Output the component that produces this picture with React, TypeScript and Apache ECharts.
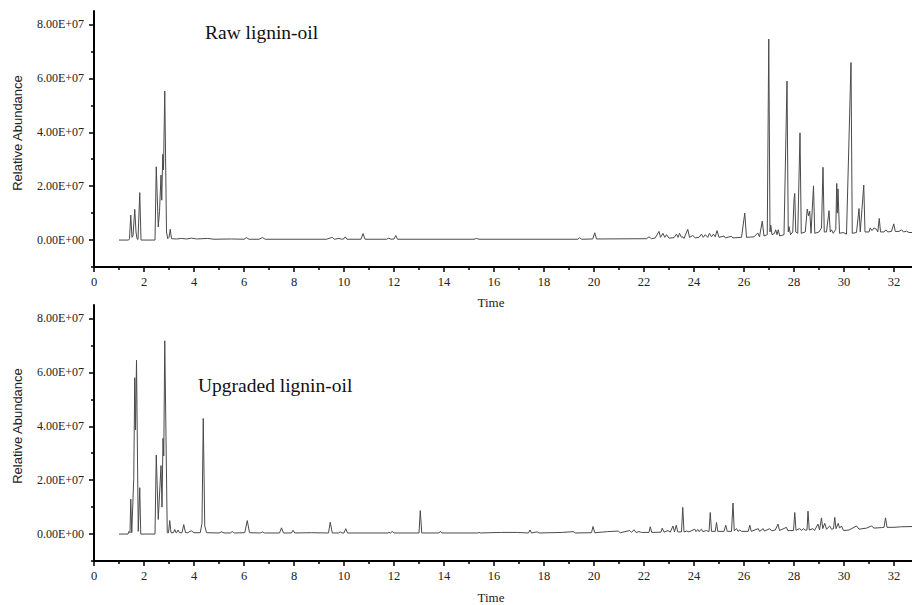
import React, { useEffect, useRef } from "react";
import * as echarts from "echarts";

// Retention time (min) / relative abundance (units of 1E7)
const rawTrace: number[][] = [
  [1.0,0],[1.38,0],[1.42,0.05],[1.47,0.93],[1.52,0.1],[1.56,0.15],[1.63,1.14],[1.68,0.3],[1.72,0.05],[1.76,0.02],[1.83,1.76],[1.88,0],
  [2.44,0],[2.49,2.72],[2.57,0.49],[2.62,1.05],[2.68,2.41],[2.71,1.48],[2.75,3.18],[2.78,2.6],[2.83,5.53],[2.9,0.3],[2.95,0.05],
  [3.0,0.1],[3.05,0.4],[3.1,0.05],[3.3,0.04],[3.5,0.06],[3.7,0.04],[3.9,0.07],[4.1,0.04],[4.55,0.06],[4.8,0.03],[5.5,0.04],
  [6.0,0.03],[6.1,0.09],[6.2,0.03],[6.6,0.03],[6.74,0.09],[6.85,0.03],[8.0,0.03],[9.3,0.03],[9.4,0.06],[9.53,0.1],[9.62,0.03],
  [9.8,0.06],[9.9,0.03],[10.0,0.05],[10.05,0.12],[10.12,0.03],[10.68,0.03],[10.76,0.24],[10.84,0.03],[11.7,0.03],[11.79,0.07],
  [11.88,0.03],[12.0,0.04],[12.07,0.17],[12.14,0.03],[15.2,0.03],[15.3,0.06],[15.4,0.03],[19.35,0.03],[19.43,0.09],[19.5,0.03],
  [19.95,0.04],[20.03,0.27],[20.1,0.04],[22.1,0.05],[22.2,0.12],[22.3,0.05],[22.45,0.08],[22.6,0.32],[22.66,0.1],[22.76,0.25],
  [22.83,0.1],[22.9,0.2],[23.0,0.07],[23.2,0.09],[23.3,0.22],[23.36,0.1],[23.42,0.25],[23.5,0.1],[23.55,0.12],[23.6,0.06],
  [23.75,0.4],[23.82,0.1],[23.95,0.17],[24.05,0.08],[24.2,0.1],[24.3,0.22],[24.37,0.1],[24.45,0.2],[24.55,0.1],[24.62,0.25],
  [24.7,0.12],[24.78,0.22],[24.85,0.12],[24.92,0.35],[25.0,0.1],[25.2,0.15],[25.25,0.08],[25.5,0.14],[25.55,0.08],[25.9,0.1],
  [26.03,1.0],[26.1,0.1],[26.4,0.12],[26.55,0.26],[26.62,0.12],[26.73,0.7],[26.8,0.15],[26.93,0.2],[26.99,7.46],[27.04,0.3],
  [27.07,0.55],[27.12,0.2],[27.22,0.25],[27.27,0.38],[27.32,0.2],[27.37,0.38],[27.43,0.15],[27.6,0.2],[27.72,5.9],[27.77,0.3],
  [27.8,0.5],[27.86,0.2],[27.95,0.3],[28.0,1.5],[28.03,1.73],[28.07,0.3],[28.15,0.25],[28.24,3.98],[28.29,0.25],[28.45,0.3],
  [28.53,1.15],[28.58,0.9],[28.63,1.07],[28.68,0.25],[28.78,2.01],[28.83,0.25],[29.0,0.3],[29.1,0.45],[29.16,2.7],[29.21,0.3],
  [29.3,0.3],[29.4,1.09],[29.45,0.3],[29.5,0.38],[29.57,0.25],[29.67,0.4],[29.71,2.1],[29.73,1.0],[29.76,1.9],[29.82,0.25],
  [29.97,0.28],[30.1,0.22],[30.28,6.59],[30.33,0.25],[30.5,0.28],[30.6,1.17],[30.65,0.3],[30.79,2.04],[30.84,0.3],[31.0,0.3],
  [31.05,0.45],[31.12,0.35],[31.2,0.45],[31.3,0.4],[31.35,0.3],[31.41,0.8],[31.46,0.3],[31.6,0.3],[31.68,0.38],[31.75,0.3],
  [31.9,0.32],[31.99,0.6],[32.05,0.32],[32.2,0.32],[32.3,0.38],[32.38,0.3],[32.5,0.33],[32.6,0.28],[32.8,0.28],
];

const upgradedTrace: number[][] = [
  [1.0,0],[1.36,0],[1.4,0.1],[1.44,0.05],[1.47,1.3],[1.51,0.05],[1.59,2.07],[1.63,5.8],[1.66,3.86],[1.70,6.45],[1.77,0.1],
  [1.83,1.72],[1.87,0],[2.44,0],[2.49,2.93],[2.57,0.54],[2.68,2.54],[2.72,1.0],[2.76,3.55],[2.79,2.9],[2.83,7.17],[2.93,0.05],
  [2.98,0.05],[3.03,0.5],[3.08,0.05],[3.18,0.05],[3.23,0.17],[3.28,0.05],[3.31,0.05],[3.36,0.15],[3.42,0.05],[3.52,0.05],
  [3.59,0.35],[3.66,0.05],[3.75,0.05],[3.89,0.12],[4.0,0.05],[4.25,0.05],[4.32,0.4],[4.37,4.29],[4.43,0.3],[4.5,0.05],
  [5.0,0.04],[5.1,0.08],[5.2,0.04],[5.45,0.04],[5.53,0.09],[5.62,0.04],[6.03,0.05],[6.13,0.5],[6.22,0.05],[6.65,0.04],
  [6.74,0.08],[6.82,0.04],[7.42,0.04],[7.5,0.23],[7.58,0.04],[7.9,0.04],[7.96,0.14],[8.03,0.04],[8.7,0.05],[9.38,0.04],
  [9.45,0.44],[9.53,0.04],[9.78,0.04],[9.85,0.08],[9.92,0.04],[10.0,0.04],[10.07,0.2],[10.14,0.04],[11.75,0.04],[11.8,0.06],
  [11.86,0.04],[11.93,0.1],[12.0,0.04],[13.0,0.04],[13.05,0.87],[13.11,0.04],[13.8,0.04],[13.85,0.1],[13.92,0.04],
  [15.35,0.04],[15.4,0.06],[15.45,0.04],[16.27,0.06],[16.93,0.06],[17.38,0.04],[17.44,0.15],[17.5,0.04],[17.73,0.08],
  [17.8,0.04],[18.73,0.06],[19.17,0.09],[19.25,0.04],[19.9,0.05],[19.96,0.28],[20.03,0.05],[20.54,0.09],[20.97,0.11],
  [21.05,0.05],[21.43,0.13],[21.5,0.06],[21.6,0.16],[21.68,0.06],[21.8,0.09],[21.9,0.06],[22.2,0.06],[22.25,0.27],[22.31,0.06],
  [22.68,0.07],[22.73,0.22],[22.8,0.07],[22.96,0.13],[23.05,0.07],[23.16,0.3],[23.22,0.08],[23.29,0.33],[23.35,0.08],
  [23.5,0.08],[23.55,0.99],[23.6,0.08],[23.7,0.11],[23.8,0.08],[24.03,0.18],[24.08,0.09],[24.15,0.17],[24.2,0.09],[24.3,0.18],
  [24.35,0.09],[24.5,0.13],[24.6,0.09],[24.65,0.8],[24.7,0.1],[24.85,0.1],[24.9,0.43],[24.95,0.1],[25.2,0.1],[25.27,0.33],
  [25.33,0.1],[25.5,0.1],[25.56,1.15],[25.61,0.12],[25.7,0.2],[25.76,0.1],[25.83,0.15],[25.9,0.1],[26.17,0.1],[26.23,0.33],
  [26.29,0.1],[26.57,0.2],[26.62,0.1],[26.77,0.2],[26.82,0.11],[27.03,0.2],[27.1,0.12],[27.25,0.15],[27.36,0.37],[27.42,0.13],
  [27.7,0.25],[27.75,0.13],[27.98,0.13],[28.03,0.8],[28.08,0.14],[28.23,0.2],[28.3,0.14],[28.39,0.2],[28.45,0.14],[28.52,0.15],
  [28.56,0.85],[28.61,0.15],[28.76,0.2],[28.82,0.13],[28.96,0.37],[29.02,0.15],[29.1,0.6],[29.15,0.2],[29.23,0.4],[29.3,0.18],
  [29.43,0.3],[29.5,0.18],[29.58,0.2],[29.63,0.62],[29.68,0.2],[29.77,0.4],[29.82,0.22],[29.9,0.3],[29.98,0.13],[30.2,0.15],
  [30.5,0.3],[30.6,0.18],[30.9,0.22],[31.1,0.3],[31.2,0.22],[31.5,0.24],[31.6,0.25],[31.66,0.6],[31.72,0.25],[32.0,0.25],
  [32.3,0.27],[32.8,0.28],
];

const UNIT = 1e7;
const xMajorTicks = [0, 2, 4, 6, 8, 10, 12, 14, 16, 18, 20, 22, 24, 26, 28, 30, 32];
const xMinorTicks = [1, 3, 5, 7, 9, 11, 13, 15, 17, 19, 21, 23, 25, 27, 29, 31];
const yMajorTicks = [0, 2e7, 4e7, 6e7, 8e7];
const yMinorTicks = [-1e7, 1e7, 3e7, 5e7, 7e7];
const yTickLabels = ["0.00E+00", "2.00E+07", "4.00E+07", "6.00E+07", "8.00E+07"];
const panelTitles = ["Raw lignin-oil", "Upgraded lignin-oil"];
const xAxisName = "Time";
const yAxisName = "Relative Abundance";

const SERIF = "Liberation Serif";
const SANS = "Liberation Sans";

export default function App() {
  const ref = useRef<HTMLDivElement>(null);
  useEffect(() => {
    if (!ref.current) return;
    const chart = echarts.init(ref.current, null, { renderer: "svg" });
    const grids = [
      { left: 94, right: 0, top: 11, height: 256, outerBoundsMode: "none", containLabel: false },
      { left: 94, right: 0, top: 305, height: 256, outerBoundsMode: "none", containLabel: false },
    ];
    const labelText = {
      fontFamily: "Liberation Serif, Times New Roman, serif",
      fontStyle: "normal",
      fontWeight: "normal",
      color: "#222",
    };
    const xAxes: any[] = [];
    const yAxes: any[] = [];
    grids.forEach((_, gi) => {
      xAxes.push({
        type: "value", gridIndex: gi, min: 0, max: 32.72, interval: 2, position: "bottom",
        axisLine: { show: true, onZero: false, lineStyle: { color: "#000", width: 2 } },
        axisTick: { show: true, length: 5, customValues: xMajorTicks, lineStyle: { color: "#000", width: 1.5 } },
        axisLabel: {
          show: true, margin: 8, fontSize: 12.5, ...labelText,
          formatter: (v: number) => (xMajorTicks.indexOf(v) >= 0 ? String(v) : ""),
        },
        splitLine: { show: false },
      });
      xAxes.push({
        type: "value", gridIndex: gi, min: 0, max: 32.72, interval: 1, position: "bottom",
        axisLine: { show: false, onZero: false },
        axisTick: { show: true, length: 3, customValues: xMinorTicks, lineStyle: { color: "#000", width: 1.5 } },
        axisLabel: { show: false },
        splitLine: { show: false },
      });
      yAxes.push({
        type: "value", gridIndex: gi, min: -1e7, max: 8.5e7, interval: 1e7, position: "left",
        axisLine: { show: true, onZero: false, lineStyle: { color: "#000", width: 2 } },
        axisTick: { show: true, length: 5, customValues: yMajorTicks, lineStyle: { color: "#000", width: 1.5 } },
        axisLabel: {
          show: true, margin: 10, fontSize: 12, ...labelText,
          formatter: (v: number) => {
            const i = yMajorTicks.indexOf(v);
            return i >= 0 ? yTickLabels[i] : "";
          },
        },
        splitLine: { show: false },
      });
      yAxes.push({
        type: "value", gridIndex: gi, min: -1e7, max: 8.5e7, interval: 1e7, position: "left", offset: 0,
        axisLine: { show: false, onZero: false },
        axisTick: { show: true, length: 3, customValues: yMinorTicks, lineStyle: { color: "#000", width: 1.5 } },
        axisLabel: { show: false },
        splitLine: { show: false },
      });
    });

    const mk = (trace: number[][]) => trace.map((p) => [p[0], p[1] * UNIT]);

    const graphics: any[] = [
      { type: "text", left: 205, top: 22, style: { text: panelTitles[0], fontFamily: SERIF, fontSize: 19.5, fill: "#111" } },
      { type: "text", left: 198, top: 375, style: { text: panelTitles[1], fontFamily: SERIF, fontSize: 19.5, fill: "#111" } },
      { type: "text", x: 491, y: 302, style: { text: xAxisName, fontFamily: SERIF, fontSize: 13, fill: "#222", align: "center", verticalAlign: "middle" } },
      { type: "text", x: 491, y: 597, style: { text: xAxisName, fontFamily: SERIF, fontSize: 13, fill: "#222", align: "center", verticalAlign: "middle" } },
      { type: "text", x: 17, y: 133, rotation: Math.PI / 2, style: { text: yAxisName, fontFamily: SANS, fontSize: 13, fill: "#222", align: "center", verticalAlign: "middle" } },
      { type: "text", x: 17, y: 426, rotation: Math.PI / 2, style: { text: yAxisName, fontFamily: SANS, fontSize: 13, fill: "#222", align: "center", verticalAlign: "middle" } },
    ];

    chart.setOption({
      animation: false,
      backgroundColor: "#fff",
      textStyle: { fontFamily: "Liberation Serif, serif" },
      grid: grids,
      xAxis: xAxes,
      yAxis: yAxes,
      graphic: graphics,
      series: [
        {
          type: "line", xAxisIndex: 0, yAxisIndex: 0, data: mk(rawTrace), showSymbol: false, symbol: "none",
          lineStyle: { color: "#4a4a4a", width: 1 }, silent: true,
        },
        {
          type: "line", xAxisIndex: 2, yAxisIndex: 2, data: mk(upgradedTrace), showSymbol: false, symbol: "none",
          lineStyle: { color: "#4a4a4a", width: 1 }, silent: true,
        },
      ],
    });
    return () => chart.dispose();
  }, []);
  return (
    <div
      ref={ref}
      style={{ position: "fixed", left: 0, top: 0, width: 912, height: 605, background: "#fff" }}
    />
  );
}
